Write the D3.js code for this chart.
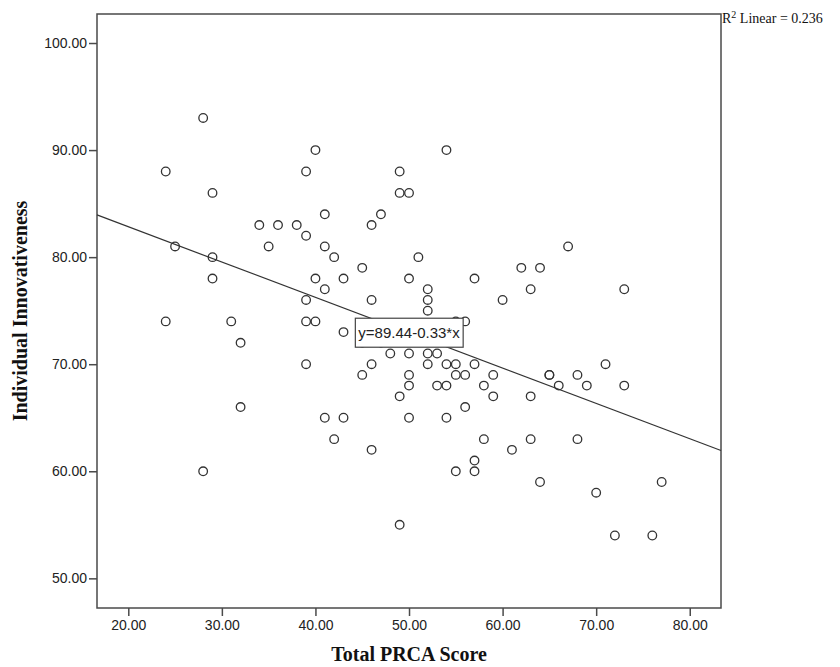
<!DOCTYPE html>
<html>
<head>
<meta charset="utf-8">
<script src="https://cdn.jsdelivr.net/npm/d3@7"></script>
<style>
  body { margin: 0; background: #fff; }
  svg { display: block; }
</style>
</head>
<body>
<script>
// Total PRCA score (x) and individual innovativeness (y), one pair per respondent
const prcaScores = [
  28, 40, 54, 24, 39, 49, 29, 49, 50, 41, 47, 34, 36, 38, 46, 39, 25, 35, 41, 67,
  29, 42, 51, 45, 62, 64, 29, 40, 43, 50, 57, 41, 52, 63, 73, 39, 46, 52, 60, 52,
  24, 31, 39, 40, 55, 56, 43, 32, 45, 47, 48, 50, 52, 53, 39, 46, 52, 54, 55, 57,
  71, 45, 50, 55, 56, 59, 65, 65, 68, 50, 53, 54, 58, 66, 69, 73, 49, 59, 63, 32,
  56, 41, 43, 50, 54, 42, 58, 63, 68, 46, 61, 57, 28, 55, 57, 64, 77, 70, 49, 72,
  76
];
const innovativeness = [
  93, 90, 90, 88, 88, 88, 86, 86, 86, 84, 84, 83, 83, 83, 83, 82, 81, 81, 81, 81,
  80, 80, 80, 79, 79, 79, 78, 78, 78, 78, 78, 77, 77, 77, 77, 76, 76, 76, 76, 75,
  74, 74, 74, 74, 74, 74, 73, 72, 72, 72, 71, 71, 71, 71, 70, 70, 70, 70, 70, 70,
  70, 69, 69, 69, 69, 69, 69, 69, 69, 68, 68, 68, 68, 68, 68, 68, 67, 67, 67, 66,
  66, 65, 65, 65, 65, 63, 63, 63, 63, 62, 62, 61, 60, 60, 60, 59, 59, 58, 55, 54,
  54
];

const xTicks = [20, 30, 40, 50, 60, 70, 80];
const yTicks = [50, 60, 70, 80, 90, 100];
const xDomain = [16.656, 83.34];
const yDomain = [47.23, 102.71];

// fit line as reported in the chart
const intercept = 89.44;
const slope = -0.33;
const rSquared = 0.236;

const data = prcaScores.map((x, i) => ({ x: x, y: innovativeness[i] }));

const width = 840, height = 667;
const margin = { top: 14, right: 119, bottom: 59, left: 97 };
const innerW = width - margin.left - margin.right;
const innerH = height - margin.top - margin.bottom;

const svg = d3.select('body')
  .append('svg')
  .attr('width', width)
  .attr('height', height);

const g = svg.append('g')
  .attr('transform', `translate(${margin.left},${margin.top})`);

const x = d3.scaleLinear().domain(xDomain).range([0, innerW]);
const y = d3.scaleLinear().domain(yDomain).range([innerH, 0]);

const axisColor = '#4a4a4a';

// x axis
const xAxis = g.append('g')
  .attr('transform', `translate(0,${innerH})`)
  .call(d3.axisBottom(x).tickValues(xTicks).tickFormat(d3.format('.2f')).tickSize(8).tickPadding(4));

// y axis
const yAxis = g.append('g')
  .call(d3.axisLeft(y).tickValues(yTicks).tickFormat(d3.format('.2f')).tickSize(8).tickPadding(2));

[xAxis, yAxis].forEach(ax => {
  ax.select('.domain').remove();
  ax.selectAll('.tick line').attr('stroke', axisColor).attr('stroke-width', 1.5);
  ax.selectAll('.tick text')
    .attr('fill', '#222')
    .style('font-family', '"Liberation Sans", Arial, sans-serif')
    .style('font-size', '14px');
});

// frame
g.append('rect')
  .attr('x', 0)
  .attr('y', 0)
  .attr('width', innerW)
  .attr('height', innerH)
  .attr('fill', 'none')
  .attr('stroke', axisColor)
  .attr('stroke-width', 1.5);

// regression line
const lineFn = v => intercept + slope * v;
g.append('line')
  .attr('x1', x(xDomain[0]))
  .attr('y1', y(lineFn(xDomain[0])))
  .attr('x2', x(xDomain[1]))
  .attr('y2', y(lineFn(xDomain[1])))
  .attr('stroke', '#333')
  .attr('stroke-width', 1.2);

// points
g.selectAll('.dot')
  .data(data)
  .enter()
  .append('circle')
  .attr('class', 'dot')
  .attr('cx', d => x(d.x))
  .attr('cy', d => y(d.y))
  .attr('r', 4.3)
  .attr('fill', 'none')
  .attr('stroke', '#333')
  .attr('stroke-width', 1.3);

// equation label, centred on the line at the middle of the x range
const midX = (xDomain[0] + xDomain[1]) / 2;
const label = g.append('g')
  .attr('transform', `translate(${x(midX)},${y(lineFn(midX))})`);
const labelText = label.append('text')
  .attr('text-anchor', 'middle')
  .attr('dy', '0.35em')
  .attr('fill', '#222')
  .style('font-family', '"Liberation Sans", Arial, sans-serif')
  .style('font-size', '15px')
  .text(`y=${intercept}${slope < 0 ? '-' : '+'}${Math.abs(slope)}*x`);
const bb = labelText.node().getBBox();
label.insert('rect', 'text')
  .attr('x', bb.x - 3)
  .attr('y', -14.5)
  .attr('width', bb.width + 6)
  .attr('height', 29)
  .attr('fill', '#fff')
  .attr('stroke', '#444')
  .attr('stroke-width', 1.2);

// R squared note
const rText = svg.append('text')
  .attr('x', margin.left + innerW + 1)
  .attr('y', 23)
  .attr('fill', '#111')
  .style('font-family', '"Liberation Serif", "Times New Roman", serif')
  .style('font-size', '14px');
rText.append('tspan').text('R');
rText.append('tspan').attr('dy', -5).style('font-size', '10px').text('2');
rText.append('tspan').attr('dy', 5).text(` Linear = ${rSquared}`);

// axis titles
svg.append('text')
  .attr('x', margin.left + innerW / 2)
  .attr('y', 661)
  .attr('text-anchor', 'middle')
  .attr('fill', '#111')
  .style('font-family', '"Liberation Serif", "Times New Roman", serif')
  .style('font-weight', 'bold')
  .style('font-size', '20px')
  .text('Total PRCA Score');

svg.append('text')
  .attr('transform', `translate(27,${margin.top + innerH / 2}) rotate(-90)`)
  .attr('text-anchor', 'middle')
  .attr('fill', '#111')
  .style('font-family', '"Liberation Serif", "Times New Roman", serif')
  .style('font-weight', 'bold')
  .style('font-size', '20px')
  .text('Individual Innovativeness');
</script>
</body>
</html>
